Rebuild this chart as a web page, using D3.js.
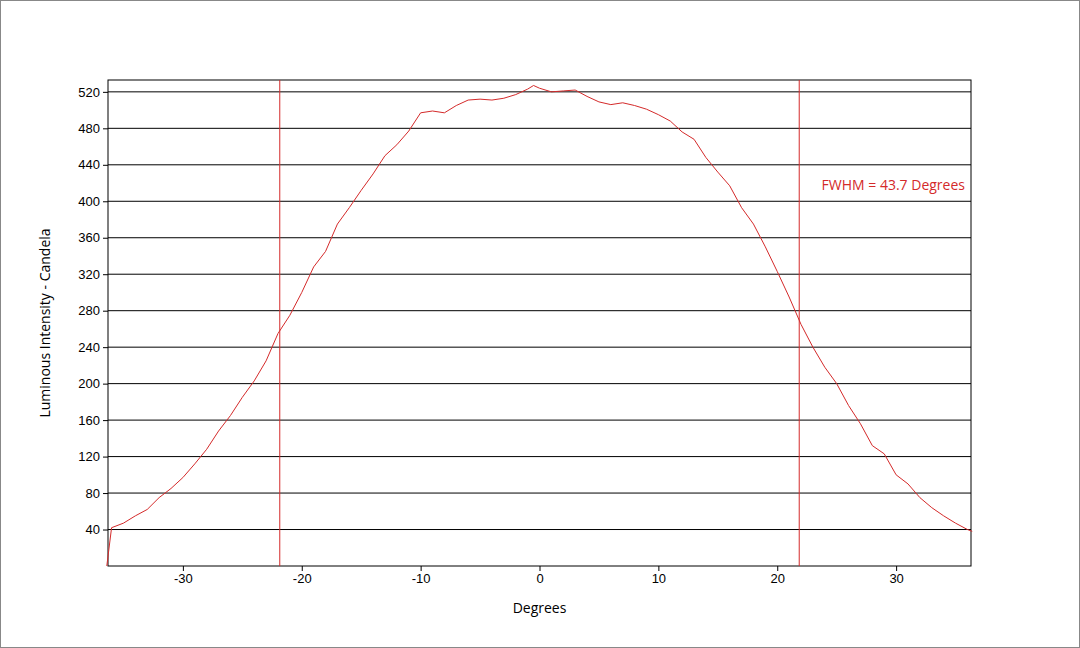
<!DOCTYPE html>
<html><head><meta charset="utf-8">
<script src="https://cdn.jsdelivr.net/npm/d3@7/dist/d3.min.js"></script>
<style>body{margin:0;background:#fff}svg{display:block;font-family:"Open Sans","Noto Sans",sans-serif}</style>
</head><body><svg id="c" width="1080" height="648"></svg>
<script>
const degrees = [-36.4,-36,-35,-34,-33,-32,-31,-30,-29,-28,-27,-26,-25,-24,-23,-22,-21,-20,-19,-18,-17,-16,-15,-14,-13,-12,-11,-10,-9,-8,-7,-6,-5,-4,-3,-2,-1,-0.5,0,1,2,3,4,5,6,7,8,9,10,11,12,13,14,15,16,17,18,19,20,21,22,23,24,25,26,27,28,29,30,31,32,33,34,35,36,36.4];
const candela = [0,42,47,55,62,75,85,97,112,128,148,165,185,203,225,255,275,300,328,345,375,393,412,430,450,462,477,497,499,497,505,511,512,511,513,517,523,527,524,520,521,522,515,509,506,508,505,501,495,488,476,468,448,432,417,393,375,350,323,295,265,240,218,200,176,156,132,123,100,90,75,64,55,47,40,38];
const yTicks = [40,80,120,160,200,240,280,320,360,400,440,480,520];
const xTicks = [-30,-20,-10,0,10,20,30];
const fwhmLines = [-21.85,21.85];
const annotation = "FWHM = 43.7 Degrees";

const svg = d3.select("#c");
const L=108,R=971,T=80,B=566, red="#d42a2a";
const x = d3.scaleLinear().domain([-36.3,36.3]).range([L,R]);
const y = d3.scaleLinear().domain([0,533]).range([B,T]);
svg.append("rect").attr("x",0.5).attr("y",0.5).attr("width",1079).attr("height",647).attr("fill","none").attr("stroke","#888");
svg.append("g").selectAll("line").data(yTicks).join("line")
  .attr("x1",L).attr("x2",R).attr("y1",d=>y(d)).attr("y2",d=>y(d)).attr("stroke","#000").attr("stroke-width",1);
svg.append("rect").attr("x",L).attr("y",T).attr("width",R-L).attr("height",B-T).attr("fill","none").attr("stroke","#000");
const ya = svg.append("g").attr("transform",`translate(${L},0)`).call(d3.axisLeft(y).tickValues(yTicks).tickSize(5).tickFormat(d=>String(d)));
const xa = svg.append("g").attr("transform",`translate(0,${B})`).call(d3.axisBottom(x).tickValues(xTicks).tickSize(5).tickFormat(d=>String(d)));
[ya,xa].forEach(a=>{a.select(".domain").remove();a.selectAll("text").attr("font-size",13).attr("fill","#000");});
svg.selectAll(".fw").data(fwhmLines).join("line").attr("x1",d=>x(d)).attr("x2",d=>x(d)).attr("y1",T).attr("y2",B).attr("stroke",red);
svg.append("path").datum(degrees.map((d,i)=>[d,candela[i]])).attr("fill","none").attr("stroke",red).attr("stroke-width",1)
  .attr("d",d3.line().x(d=>x(d[0])).y(d=>y(d[1])));
svg.append("text").attr("x",965).attr("y",190).attr("text-anchor","end").attr("fill",red).attr("font-size",14).text(annotation);
svg.append("text").attr("x",(L+R)/2).attr("y",613).attr("text-anchor","middle").attr("font-size",14).text("Degrees");
svg.append("text").attr("transform",`translate(50,${(T+B)/2}) rotate(-90)`).attr("text-anchor","middle").attr("font-size",14).text("Luminous Intensity - Candela");
</script></body></html>
